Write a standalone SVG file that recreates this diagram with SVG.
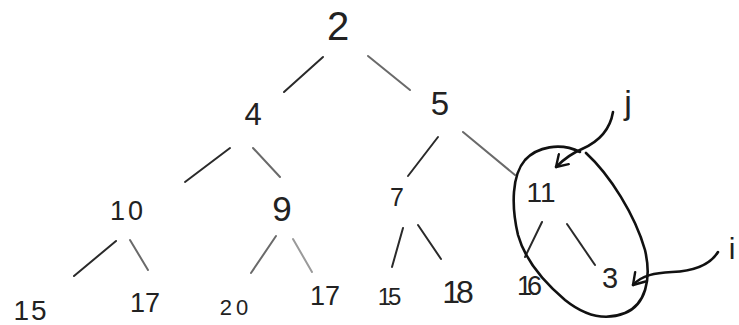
<svg xmlns="http://www.w3.org/2000/svg" width="739" height="325" viewBox="0 0 739 325">
<style>
.lbl{font-family:"Liberation Sans","DejaVu Sans",sans-serif;fill:#222;text-anchor:middle}
.e{fill:none;stroke:#2a2a2a;stroke-width:2;stroke-linecap:round}
.g{stroke:#6a6a6a}
.lg{stroke:#9a9a9a}
.pen{fill:none;stroke:#111;stroke-width:2.6;stroke-linecap:round;stroke-linejoin:round}
</style>
<defs>
<marker id="ah" viewBox="0 0 14 16" refX="13" refY="8" markerWidth="14" markerHeight="16" markerUnits="userSpaceOnUse" orient="auto">
<path d="M2,1 L13,8 L2,15" fill="none" stroke="#111" stroke-width="2.4" stroke-linecap="round" stroke-linejoin="round"/>
</marker>
</defs>
<rect width="739" height="325" fill="#fff"/>
<g id="connectors">
<line class="e" x1="323" y1="57" x2="284" y2="92"/>
<line class="e g" x1="368" y1="56" x2="410" y2="90"/>
<line class="e" x1="230" y1="148" x2="185" y2="182"/>
<line class="e g" x1="253" y1="148" x2="280" y2="177"/>
<line class="e" x1="438" y1="137" x2="408" y2="176"/>
<line class="e g" x1="463" y1="132" x2="515" y2="175"/>
<line class="e" x1="116" y1="241" x2="74" y2="276"/>
<line class="e g" x1="130" y1="240" x2="148" y2="270"/>
<line class="e g" x1="276" y1="236" x2="251" y2="273"/>
<line class="e lg" x1="293" y1="239" x2="312" y2="272"/>
<line class="e" x1="403" y1="228" x2="392" y2="267"/>
<line class="e" x1="418" y1="225" x2="441" y2="259"/>
<line class="e" x1="542" y1="222" x2="525" y2="257"/>
<line class="e" x1="567" y1="224" x2="595" y2="265"/>
<path class="pen" d="M613,112 C610,130 598,142 582,149 C570,154 563,160 556,167" marker-end="url(#ah)"/>
<path class="pen" d="M718,252 C710,265 695,271 672,272 C655,273 642,275 633,285" marker-end="url(#ah)"/>
</g>
<g id="highlight">
<path class="pen" d="M586,153 C610,175 635,215 645,250 C652,280 645,305 625,313 C605,321 585,316 565,300 C545,283 525,260 518,235 C511,205 512,175 525,160 C537,147 560,142 580,152"/>
</g>
<g id="n2"><text class="lbl" x="338" y="40" font-size="40">2</text></g>
<g id="n4"><text class="lbl" x="253" y="125" font-size="31">4</text></g>
<g id="n5"><text class="lbl" x="440" y="115" font-size="33">5</text></g>
<g id="n10"><text class="lbl" x="128" y="220" font-size="27" letter-spacing="3">10</text></g>
<g id="n9"><text class="lbl" x="282" y="221" font-size="35">9</text></g>
<g id="n7"><text class="lbl" x="397" y="206" font-size="25">7</text></g>
<g id="n11"><text class="lbl" x="541" y="202" font-size="28">11</text></g>
<g id="n15a"><text class="lbl" x="31" y="320" font-size="28" letter-spacing="2">15</text></g>
<g id="n17a"><text class="lbl" x="145" y="312" font-size="27">17</text></g>
<g id="n20"><text class="lbl" x="236" y="315" font-size="22" letter-spacing="4">20</text></g>
<g id="n17b"><text class="lbl" x="325" y="305" font-size="27">17</text></g>
<g id="n15b"><text class="lbl" x="388" y="305" font-size="24" letter-spacing="-3">15</text></g>
<g id="n18"><text class="lbl" x="456" y="303" font-size="32" letter-spacing="-4">18</text></g>
<g id="n16"><text class="lbl" x="527" y="295" font-size="27" letter-spacing="-5">16</text></g>
<g id="n3"><text class="lbl" x="610" y="288" font-size="29">3</text></g>
<g id="lj"><text class="lbl" x="628" y="114" font-size="34">j</text></g>
<g id="li"><text class="lbl" x="732" y="259" font-size="30">i</text></g>
</svg>
